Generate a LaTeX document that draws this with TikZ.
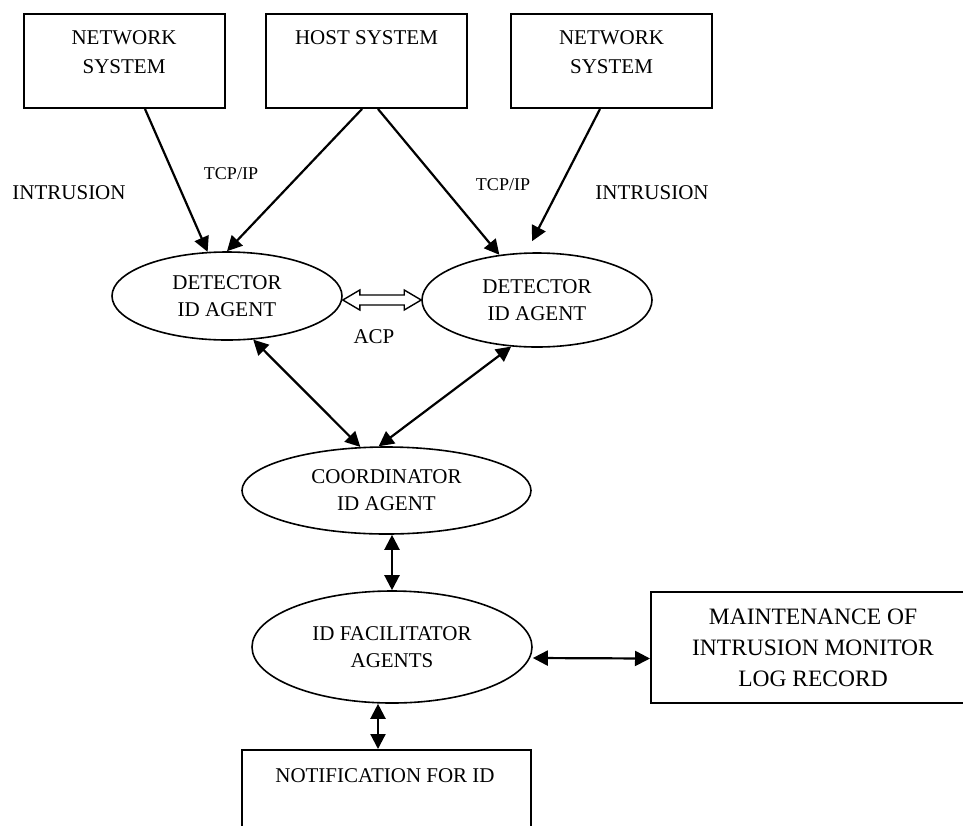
\documentclass[tikz,border=0pt]{standalone}
\usepackage{fontspec}
\setmainfont{Liberation Serif}
\usetikzlibrary{arrows.meta,shapes.geometric,calc}
\begin{document}
\begin{tikzpicture}[x=1pt,y=-1pt,
  box/.style={draw, line width=2pt, rectangle, inner sep=0pt},
  oval/.style={draw, line width=1.6pt, ellipse, inner sep=0pt, align=center, font=\fontsize{21}{27}\selectfont},
  txt/.style={inner sep=0pt, anchor=base, font=\fontsize{21}{25}\selectfont},
  small/.style={inner sep=0pt, anchor=base, font=\fontsize{18}{22}\selectfont},
  arr/.style={line width=2.2pt, -{Triangle[length=15pt,width=15pt]}},
  darr/.style={line width=2.2pt, {Triangle[length=15pt,width=15pt]}-{Triangle[length=15pt,width=15pt]}},
  acp/.style={line width=1.4pt, fill=white}
]
\useasboundingbox (0,0) rectangle (963,825);
\clip (0,0) rectangle (963,825);
\fill[white] (0,0) rectangle (963,825);

% top boxes
\node[box, minimum width=201pt, minimum height=94pt] (ns1) at (124,61) {};
\node[box, minimum width=201pt, minimum height=94pt] (hs) at (366.5,61) {};
\node[box, minimum width=201pt, minimum height=94pt] (ns2) at (611.5,61) {};
\node[txt] (t1a) at (124,44) {NETWORK};
\node[txt] (t1b) at (124,73) {SYSTEM};
\node[txt] (t2) at (366.5,44) {HOST SYSTEM};
\node[txt] (t3a) at (611.5,44) {NETWORK};
\node[txt] (t3b) at (611.5,73) {SYSTEM};

% ellipses
\node[oval, minimum width=230pt, minimum height=88pt] (dl) at (227,296) {DETECTOR\\ID AGENT};
\node[oval, minimum width=230pt, minimum height=94pt] (dr) at (537,300) {DETECTOR\\ID AGENT};
\node[oval, minimum width=289pt, minimum height=87pt] (co) at (386.5,490.5) {COORDINATOR\\ID AGENT};
\node[oval, minimum width=280pt, minimum height=112pt] (fa) at (392,647) {ID FACILITATOR\\AGENTS};

% bottom boxes
\node[box, minimum width=324pt, minimum height=111pt, align=center, font=\fontsize{23.5}{31}\selectfont] (mt) at (813,647.5) {MAINTENANCE OF\\INTRUSION MONITOR\\LOG RECORD};
\node[box, minimum width=289pt, minimum height=110pt] (nt) at (386.5,805) {};
\node[txt] (ntt) at (385,782) {NOTIFICATION FOR ID};

% labels
\node[txt] (l1) at (69,199) {INTRUSION};
\node[small] (l2) at (231,179) {TCP/IP};
\node[small] (l3) at (503,190) {TCP/IP};
\node[txt] (l4) at (652,199) {INTRUSION};
\node[txt] (l5) at (374,343) {ACP};

% connectors
\draw[arr] ([xshift=21pt]ns1.south) -- (dl);
\draw[arr] ([xshift=-4.5pt]hs.south) -- (dl.north);
\draw[arr] ([xshift=11.5pt]hs.south) -- (dr);
\draw[arr] ([xshift=-11.5pt]ns2.south) -- ([xshift=-5pt,yshift=11pt]dr.north);

\draw[darr] (dl.-59) -- (co.121);
\draw[darr] (dr.241) -- (co.100);
\draw[darr] (fa.north) -- (fa.north |- co.south);
\draw[darr] ([yshift=-11pt]fa.east) -- ([yshift=-11pt]mt.west);
\draw[darr] ([xshift=-8.5pt]nt.north) -- ([xshift=-8.5pt]nt.north |- fa.south);

% ACP double arrow
\draw[acp] let \p1=(dl.east), \p2=(dr.west) in
  (\x1,\y2) -- ({\x1+17pt},{\y2+10pt}) -- ({\x1+17pt},{\y2+5pt}) -- ({\x2-17pt},{\y2+5pt})
  -- ({\x2-17pt},{\y2+10pt}) -- (\x2,\y2) -- ({\x2-17pt},{\y2-10pt}) -- ({\x2-17pt},{\y2-5pt})
  -- ({\x1+17pt},{\y2-5pt}) -- ({\x1+17pt},{\y2-10pt}) -- cycle;
\end{tikzpicture}
\end{document}
